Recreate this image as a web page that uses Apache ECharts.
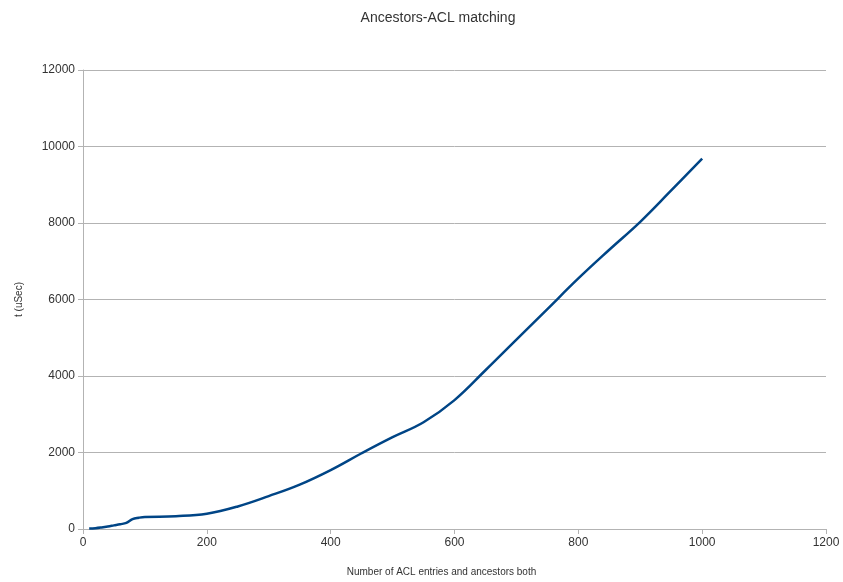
<!DOCTYPE html>
<html>
<head>
<meta charset="utf-8">
<script src="https://cdn.jsdelivr.net/npm/echarts@6/dist/echarts.min.js"></script>
<style>html,body{margin:0;padding:0;background:#fff}#c{width:843px;height:582px}</style>
</head>
<body>
<div id="c"></div>
<script>
var titleText = 'Ancestors-ACL matching';
var xName = 'Number of ACL entries and ancestors both';
var yName = 't (uSec)';
var xValues = [10, 20, 30, 40, 50, 60, 70, 80, 90, 100, 150, 200, 250, 300, 350, 400, 450, 500, 550, 600, 650, 700, 750, 800, 850, 900, 950, 1000];
var yValues = [10, 20, 40, 65, 95, 125, 160, 260, 295, 315, 335, 400, 590, 860, 1160, 1540, 1980, 2400, 2790, 3370, 4150, 4950, 5750, 6550, 7300, 8030, 8850, 9680];

var data = xValues.map(function (x, i) { return [x, yValues[i]]; });
var chart = echarts.init(document.getElementById('c'), null, {renderer: 'canvas'});
var font = 'Liberation Sans, Arial, sans-serif';
function plain(v) { return String(v); }
chart.setOption({
  animation: false,
  backgroundColor: '#fff',
  title: {
    text: titleText, left: 433, top: 6, textAlign: 'center',
    textStyle: {fontFamily: font, fontSize: 14, fontWeight: 'normal', color: '#333'}
  },
  grid: {left: 83, right: 17, top: 70, bottom: 53, containLabel: false, outerBoundsMode: 'none'},
  xAxis: {
    type: 'value', min: 0, max: 1200, interval: 200,
    name: xName, nameLocation: 'middle', nameGap: 38,
    nameTextStyle: {fontFamily: font, fontSize: 10, color: '#333', padding: [0, 26, 0, 0]},
    axisLine: {show: true, lineStyle: {color: '#b3b3b3'}},
    axisTick: {show: true, length: 5, lineStyle: {color: '#b3b3b3'}},
    axisLabel: {fontFamily: font, fontSize: 12, color: '#333', margin: 8, formatter: plain},
    splitLine: {show: false}
  },
  yAxis: {
    type: 'value', min: 0, max: 12000, interval: 2000,
    name: yName, nameLocation: 'middle', nameGap: 59, nameRotate: 90,
    nameTextStyle: {fontFamily: font, fontSize: 10, color: '#333'},
    axisLine: {show: true, lineStyle: {color: '#b3b3b3'}},
    axisTick: {show: true, length: 5, lineStyle: {color: '#b3b3b3'}},
    axisLabel: {fontFamily: font, fontSize: 12, color: '#333', margin: 8, formatter: plain},
    splitLine: {show: true, lineStyle: {color: '#b3b3b3'}}
  },
  series: [{
    type: 'line', data: data, smooth: 0.4, showSymbol: false,
    lineStyle: {color: '#004586', width: 2.5},
    itemStyle: {color: '#004586'}
  }]
});
</script>
</body>
</html>
